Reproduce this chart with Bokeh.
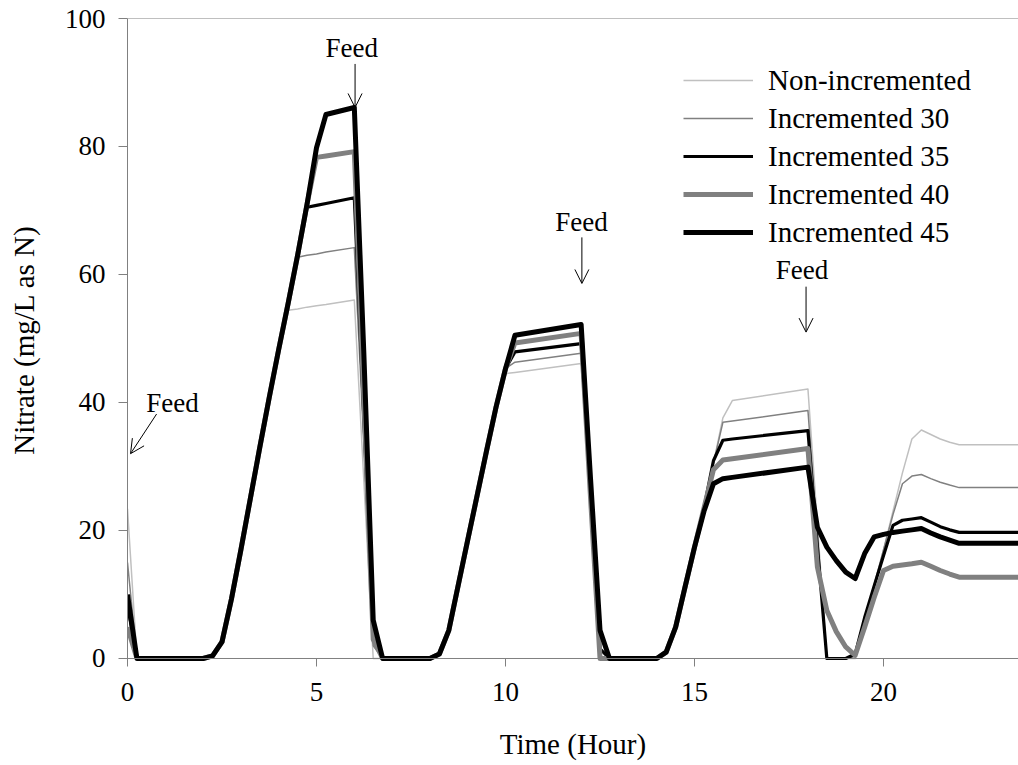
from bokeh.plotting import figure
from bokeh.models import (Range1d, FixedTicker, Span, Label, Arrow, OpenHead,
                          Legend, LegendItem, ColumnDataSource)
from bokeh.embed import file_html
from bokeh.resources import INLINE

# ---------------- data ----------------
hours = [0, 0.25, 2.0, 2.25, 2.5, 2.75, 3.0, 3.25, 3.5, 3.75, 4.0, 4.25, 4.5, 4.75,
         5.0, 5.25, 6.0, 6.25, 6.5, 6.75, 8.0, 8.25, 8.5, 8.75, 9.0, 9.25, 9.5, 9.75,
         10.0, 10.25, 12.0, 12.25, 12.5, 12.75, 14.0, 14.25, 14.5, 14.75, 15.0, 15.25,
         15.5, 15.75, 16.0, 18.0, 18.25, 18.5, 18.75, 19.0, 19.25, 19.5, 19.75, 20.0,
         20.25, 20.5, 20.75, 21.0, 21.25, 21.5, 21.75, 22.0, 24.0]

non_incremented = [23.4, 0,
                   0, 0.4, 2.6, 9.3, 17, 25, 33, 40.8, 48.3, 54.4, 54.6, 54.9, 55.1, 55.3,
                   56.0, 28, 0, 0,
                   0, 0.7, 4.4, 11.5, 18.5, 25.5, 32.5, 39.3, 44.5, 44.7,
                   46.1, 23, 0, 0,
                   0, 1.0, 4.9, 11.2, 17.4, 23.5, 30.5, 37.6, 40.3, 42.1,
                   21, 0, 0, 0, 0, 5, 11, 17, 23, 29, 34.3, 35.7, 35.0, 34.3, 33.8, 33.4, 33.4]

incremented_30 = [15, 0,
                  0, 0.4, 2.6, 9.3, 17, 25, 33, 40.8, 48.3, 55.5, 62.7, 63.0, 63.2, 63.5,
                  64.2, 34, 2, 0,
                  0, 0.7, 4.4, 11.5, 18.5, 25.5, 32.5, 39.3, 45.3, 46.3,
                  47.7, 24, 0, 0,
                  0, 1.0, 4.9, 11.2, 17.4, 23.5, 30.5, 36.9, 37.1, 38.75,
                  19, 0, 0, 0, 0.3, 5.5, 11.5, 17, 22.5, 27.3, 28.5, 28.75, 28.1, 27.55, 27.1, 26.7, 26.7]

incremented_35 = [8.3, 0,
                  0, 0.4, 2.6, 9.3, 17, 25, 33, 40.8, 48.3, 55.5, 63, 70.5, 70.8, 71.1,
                  72.0, 38, 3, 0,
                  0, 0.7, 4.4, 11.5, 18.5, 25.5, 32.5, 39.3, 45.3, 47.9,
                  49.2, 26, 1.5, 0,
                  0, 1.0, 4.9, 11.2, 17.4, 23.5, 30.9, 34.1, 34.3, 35.6,
                  17.5, 0, 0, 0, 0.7, 6.4, 11.3, 16.1, 20.8, 21.6, 21.8, 22.0, 21.3, 20.6, 20.1, 19.7, 19.7]

incremented_40 = [4.9, 0,
                  0, 0.4, 2.6, 9.3, 17, 25, 33, 40.8, 48.3, 55.5, 63, 71, 78.3, 78.5,
                  79.2, 41, 3, 0,
                  0, 0.7, 4.4, 11.5, 18.5, 25.5, 32.5, 39.3, 45.3, 49.3,
                  50.8, 25, 0, 0,
                  0, 1.0, 4.9, 11.2, 17.4, 23.5, 29.5, 31.0, 31.2, 32.8,
                  14.3, 7.5, 4.2, 1.8, 0.5, 4.9, 9.5, 13.75, 14.4, 14.6, 14.8, 15.05, 14.4, 13.75, 13.2, 12.7, 12.7]

incremented_45 = [10.0, 0,
                  0, 0.4, 2.6, 9.3, 17, 25, 33, 40.8, 48.3, 55.5, 63, 71, 79.8, 85.0,
                  86.1, 48, 6, 0,
                  0, 0.7, 4.4, 11.5, 18.5, 25.5, 32.5, 39.3, 45.3, 50.5,
                  52.2, 28, 4.4, 0,
                  0, 1.0, 4.9, 11.2, 17.4, 23.0, 27.3, 28.1, 28.3, 29.9,
                  20.5, 17.4, 15.3, 13.5, 12.5, 16.4, 19.0, 19.4, 19.7, 19.9, 20.1, 20.3, 19.6, 19.0, 18.5, 18.0, 18.0]

series_names = ["Non-incremented", "Incremented 30", "Incremented 35",
                "Incremented 40", "Incremented 45"]
x_ticks = [0, 5, 10, 15, 20]
y_ticks = [0, 20, 40, 60, 80, 100]
x_title = "Time (Hour)"
y_title = "Nitrate (mg/L as N)"

# ---------------- styles ----------------
FONT = "Liberation Serif"
AX = "#808080"
styles = [("#c0c0c0", 1.5), ("#808080", 1.5), ("#000000", 3.2),
          ("#808080", 5), ("#000000", 5)]

p = figure(width=1018, height=765, output_backend="svg", toolbar_location=None,
           x_range=Range1d(0, 23.57), y_range=Range1d(-0.47, 100),
           min_border_left=127, min_border_right=0, min_border_top=18,
           min_border_bottom=104, title=None)
p.outline_line_color = None
p.grid.visible = False
p.background_fill_color = "white"

src = ColumnDataSource(dict(t=hours, s0=non_incremented, s1=incremented_30,
                            s2=incremented_35, s3=incremented_40, s4=incremented_45))
items = []
for i, (name, (col, w)) in enumerate(zip(series_names, styles)):
    r = p.line("t", f"s{i}", source=src, line_color=col, line_width=w,
               line_join="round")
    items.append(LegendItem(label=name, renderers=[r]))

# axes
xa = p.xaxis[0]
xa.ticker = FixedTicker(ticks=x_ticks)
xa.axis_line_color = None
xa.major_tick_line_color = AX
xa.major_tick_in = 3
xa.major_tick_out = 5
xa.minor_tick_line_color = None
xa.major_label_standoff = 16
xa.major_label_text_font = FONT
xa.major_label_text_font_size = "27px"
xa.major_label_text_color = "black"
xa.axis_label = x_title
xa.axis_label_text_font = FONT
xa.axis_label_text_font_size = "29px"
xa.axis_label_text_font_style = "normal"
xa.axis_label_text_color = "black"
xa.axis_label_standoff = 24

ya = p.yaxis[0]
ya.ticker = FixedTicker(ticks=y_ticks)
ya.axis_line_color = AX
ya.major_tick_line_color = AX
ya.major_tick_in = 0
ya.major_tick_out = 9
ya.minor_tick_line_color = None
ya.major_label_standoff = 13
ya.major_label_text_font = FONT
ya.major_label_text_font_size = "27px"
ya.major_label_text_color = "black"
ya.axis_label = y_title
ya.axis_label_text_font = FONT
ya.axis_label_text_font_size = "29px"
ya.axis_label_text_font_style = "normal"
ya.axis_label_text_color = "black"
ya.axis_label_standoff = 22

p.add_layout(Span(location=0, dimension="width", line_color=AX, line_width=1))
p.add_layout(Span(location=100, dimension="width", line_color=AX, line_width=1))

# Feed annotations
feed_labels = [(1.19, 39.96), (5.93, 95.46), (12.01, 68.16), (17.84, 60.66)]
feed_arrows = [((0.77, 38.2), (0.08, 32.0)), ((6.02, 92.9), (6.02, 86.1)),
               ((12.02, 65.8), (12.02, 58.6)), ((17.95, 58.1), (17.95, 51.0))]
for (lx, ly) in feed_labels:
    p.add_layout(Label(x=lx, y=ly, text="Feed", text_align="center",
                       text_baseline="alphabetic", text_font=FONT,
                       text_font_size="27px", text_color="black"))
for (s, e) in feed_arrows:
    p.add_layout(Arrow(end=OpenHead(size=14, line_width=1, line_color="black"),
                       x_start=s[0], y_start=s[1], x_end=e[0], y_end=e[1],
                       line_color="black", line_width=1))

legend = Legend(items=items, location=(556, 410), padding=0, margin=0, spacing=0,
                glyph_width=70, glyph_height=38, label_height=38, label_standoff=15,
                border_line_color=None, background_fill_alpha=0,
                label_text_font=FONT, label_text_font_size="29px",
                label_text_color="black")
p.add_layout(legend)

open("out.html", "w").write(file_html(p, INLINE))
